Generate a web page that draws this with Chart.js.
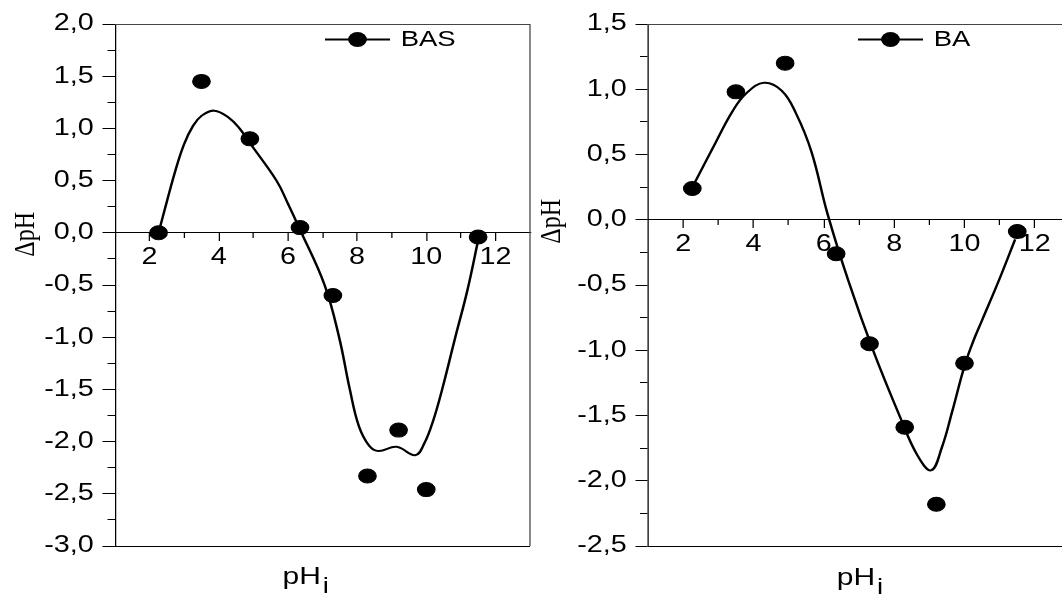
<!DOCTYPE html>
<html>
<head>
<meta charset="utf-8">
<script src="https://cdn.jsdelivr.net/npm/chart.js@4.4.1/dist/chart.umd.min.js"></script>
<style>
  html, body { margin: 0; padding: 0; background: #fff; }
  body { width: 1062px; height: 594px; overflow: hidden; position: relative; }
  .panel { position: absolute; top: 0; height: 594px; overflow: hidden; }
  #panel-bas { left: 0; width: 540px; }
  #panel-ba { left: 540px; width: 522px; }
  canvas { display: block; }
</style>
</head>
<body>
<div class="panel" id="panel-bas"><canvas id="chartBAS" width="432" height="594"></canvas></div>
<div class="panel" id="panel-ba"><canvas id="chartBA" width="432" height="594"></canvas></div>
<script>
// Initial pH of each sample (same for both series)
const phInitial = [2.26, 3.5, 4.9, 6.35, 7.3, 8.3, 9.2, 10.0, 11.5];
const deltaBAS = [0.0, 1.45, 0.9, 0.05, -0.6, -2.33, -1.89, -2.46, -0.04];
const deltaBA = [0.24, 0.98, 1.2, -0.26, -0.95, -1.59, -2.18, -1.1, -0.09];

// Fitted curves
const fitBASx = [2.26, 2.5, 2.75, 3.0, 3.25, 3.5, 3.87, 4.3, 4.6, 4.9, 5.67, 6.0, 6.35, 7.06, 7.48, 7.79, 8.05, 8.35, 8.62, 9.14, 9.68, 9.94, 10.2, 10.46, 10.84, 11.19, 11.52];
const fitBASy = [0.0, 0.3, 0.6, 0.85, 1.02, 1.12, 1.17, 1.1, 1.0, 0.86, 0.5, 0.28, 0.03, -0.5, -1.0, -1.5, -1.85, -2.04, -2.09, -2.05, -2.13, -2.02, -1.8, -1.5, -1.0, -0.55, -0.04];
const fitBAx = [2.3, 2.9, 3.4, 3.8, 4.3, 4.8, 5.2, 5.65, 6.1, 6.7, 7.4, 8.15, 8.65, 9.05, 9.35, 9.65, 10.0, 10.25, 10.5, 11.0, 11.44];
const fitBAy = [0.27, 0.58, 0.83, 0.97, 1.05, 0.99, 0.82, 0.52, 0.05, -0.47, -1.0, -1.5, -1.8, -1.92, -1.75, -1.47, -1.12, -0.93, -0.77, -0.45, -0.15];

// Tick labels
const xTicks = [2, 4, 6, 8, 10, 12];
const xMinorTicks = [3, 5, 7, 9, 11];
const yTicksBAS = [2, 1.5, 1, 0.5, 0, -0.5, -1, -1.5, -2, -2.5, -3];
const yTicksBA = [1.5, 1, 0.5, 0, -0.5, -1, -1.5, -2, -2.5];

// The original figure is stretched horizontally
const STRETCH = 1.25;
const sansFont = "'Liberation Sans', Arial, sans-serif";
const tickFont = { family: sansFont, size: 23 };

const stretchPlugin = {
  id: "stretch",
  beforeDraw: (chart) => {
    const canvas = chart.canvas;
    const w = Math.round(chart.width * STRETCH);
    if (canvas.width !== w) {
      canvas.width = w;
      canvas.style.width = w + "px";
    }
    chart.ctx.setTransform(STRETCH, 0, 0, 1, 0, 0);
  },
};

// Frame, legend and axis titles
const decorPlugin = {
  id: "decor",
  beforeDatasetsDraw: (chart) => {
    const { ctx, chartArea: a } = chart;
    ctx.save();
    ctx.lineWidth = 1;
    ctx.strokeStyle = "#444";
    ctx.beginPath();
    ctx.moveTo(a.left, a.top + 0.5);
    ctx.lineTo(a.right, a.top + 0.5);
    ctx.lineTo(a.right, a.bottom);
    ctx.stroke();
    ctx.strokeStyle = "#000";
    ctx.beginPath();
    ctx.moveTo(a.left, a.bottom + 0.5);
    ctx.lineTo(a.right, a.bottom + 0.5);
    ctx.stroke();
    ctx.restore();
  },
  afterDraw: (chart, args, opts) => {
    const { ctx, chartArea: a, scales } = chart;
    ctx.save();
    ctx.fillStyle = "#000";
    ctx.strokeStyle = "#000";

    // legend: line - marker - line + label
    const lx = a.left + 168;
    const ly = a.top + 15.5;
    ctx.lineWidth = 2;
    ctx.beginPath();
    ctx.moveTo(lx, ly);
    ctx.lineTo(lx + 52, ly);
    ctx.stroke();
    ctx.beginPath();
    ctx.arc(lx + 26, ly, 7.5, 0, Math.PI * 2);
    ctx.fill();
    ctx.font = "22px " + sansFont;
    ctx.textAlign = "left";
    ctx.textBaseline = "middle";
    ctx.fillText(chart.data.datasets[0].label, a.left + 228.5, ly + 0.5);

    // y title
    ctx.save();
    ctx.translate(opts.yTitleX, scales.y.getPixelForValue(0) + 1.5);
    ctx.rotate(-Math.PI / 2);
    ctx.font = "24px 'Liberation Serif', 'Times New Roman', serif";
    ctx.textAlign = "center";
    ctx.textBaseline = "middle";
    ctx.fillText("\u0394pH", 0, 0);
    ctx.restore();

    // x title with subscript
    ctx.font = "24px " + sansFont;
    ctx.textAlign = "left";
    ctx.textBaseline = "alphabetic";
    ctx.fillText("pH", opts.xTitleX, opts.xTitleY);
    const w = ctx.measureText("pH").width;
    ctx.font = "22px " + sansFont;
    ctx.fillText("i", opts.xTitleX + w + 1.5, opts.xTitleY + 9);
    ctx.restore();
  },
};

const setTicks = (values) => (scale) => {
  scale.ticks = values.map((value) => ({ value }));
};

const makeScales = (yTicks, yAxisWidth) => {
  const yMax = yTicks[0];
  const yMin = yTicks[yTicks.length - 1];
  const yMinor = yTicks.slice(1).map((v, i) => (v + yTicks[i]) / 2);
  return {
    x: {
      type: "linear",
      min: 1,
      max: 13,
      position: { y: 0 },
      border: { color: "#000", width: 1 },
      grid: { drawOnChartArea: false, tickLength: 8, tickColor: "#000" },
      ticks: {
        color: "#000",
        font: tickFont,
        padding: 3,
        autoSkip: false,
        maxRotation: 0,
        callback: (v) => String(v),
      },
      afterBuildTicks: setTicks(xTicks),
    },
    xMinor: {
      axis: "x",
      type: "linear",
      min: 1,
      max: 13,
      position: { y: 0 },
      border: { display: false },
      grid: { drawOnChartArea: false, tickLength: 5, tickColor: "#000" },
      ticks: { display: false },
      afterBuildTicks: setTicks(xMinorTicks),
    },
    y: {
      type: "linear",
      position: "left",
      min: yMin,
      max: yMax,
      border: { color: "#000", width: 1 },
      grid: { drawOnChartArea: false, tickLength: 10, tickColor: "#000" },
      ticks: {
        color: "#000",
        font: tickFont,
        padding: 7,
        autoSkip: false,
        callback: (v) => v.toFixed(1).replace(".", ","),
      },
      afterBuildTicks: setTicks(yTicks),
      afterFit: (scale) => {
        scale.width = yAxisWidth;
      },
    },
    yMinor: {
      axis: "y",
      type: "linear",
      position: { x: 1 },
      min: yMin,
      max: yMax,
      border: { display: false },
      grid: { drawOnChartArea: false, tickLength: 6, tickColor: "#000" },
      ticks: { display: false },
      afterBuildTicks: setTicks(yMinor),
    },
  };
};

const makeChart = (canvasId, label, values, fitX, fitY, yTicks, layout) => {
  return new Chart(document.getElementById(canvasId), {
    type: "scatter",
    data: {
      datasets: [
        {
          label: label,
          data: phInitial.map((x, i) => ({ x: x, y: values[i] })),
          xAxisID: "x",
          yAxisID: "y",
          showLine: false,
          pointRadius: 7,
          pointHoverRadius: 7,
          pointBackgroundColor: "#000",
          pointBorderColor: "#000",
          pointBorderWidth: 1,
        },
        {
          label: label + " fit",
          data: fitX.map((x, i) => ({ x: x, y: fitY[i] })),
          xAxisID: "x",
          yAxisID: "y",
          showLine: true,
          pointRadius: 0,
          borderColor: "#000",
          borderWidth: 2,
          tension: 0.4,
          fill: false,
        },
      ],
    },
    options: {
      responsive: false,
      animation: false,
      events: [],
      devicePixelRatio: 1,
      layout: {
        padding: { left: 0, top: 24, right: layout.padRight, bottom: 48 },
      },
      scales: makeScales(yTicks, layout.yAxisWidth),
      plugins: {
        legend: { display: false },
        tooltip: { enabled: false },
        decor: {
          yTitleX: layout.yTitleX,
          xTitleX: layout.xTitleX,
          xTitleY: layout.xTitleY,
        },
      },
    },
    plugins: [stretchPlugin, decorPlugin],
  });
};

makeChart("chartBAS", "BAS", deltaBAS, fitBASx, fitBASy, yTicksBAS, {
  yAxisWidth: 92,
  padRight: 1.6,
  yTitleX: 20.8,
  xTitleX: 226,
  xTitleY: 584,
});

makeChart("chartBA", "BA", deltaBA, fitBAx, fitBAy, yTicksBA, {
  yAxisWidth: 86.4,
  padRight: 6.4,
  yTitleX: 9.5,
  xTitleX: 237.4,
  xTitleY: 585,
});
</script>
</body>
</html>
